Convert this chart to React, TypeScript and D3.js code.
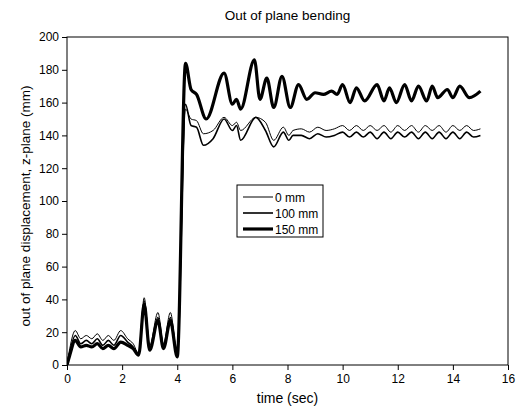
import React, { useEffect, useRef } from "react";
import * as d3 from "d3";

const title = "Out of plane bending";
const xLabel = "time (sec)";
const yLabel = "out of plane displacement, z-plane (mm)";
const seriesNames = ["0 mm", "100 mm", "150 mm"];
const seriesWidths = [1, 1.6, 3.2];
const xTicks = [0, 2, 4, 6, 8, 10, 12, 14, 16];
const yTicks = [0, 20, 40, 60, 80, 100, 120, 140, 160, 180, 200];

const series0: [number, number][] = [
  [0, 0], [0.1, 10], [0.3, 21], [0.5, 16], [0.7, 18], [0.9, 16], [1.1, 19], [1.3, 15], [1.5, 18], [1.7, 15],
  [1.95, 21], [2.2, 16], [2.4, 13], [2.6, 7], [2.8, 41], [3.0, 12], [3.3, 32], [3.5, 13], [3.75, 32], [4.0, 7],
  [4.3, 156], [4.5, 150], [4.7, 149], [4.95, 141], [5.3, 143], [5.7, 151], [6.0, 146], [6.15, 148], [6.3, 143], [6.85, 151],
  [7.2, 148], [7.5, 137], [7.85, 145], [8.05, 140], [8.2, 143], [8.5, 144], [8.8, 142], [9.1, 145], [9.4, 143],
  [9.7, 144], [10.0, 146], [10.25, 143], [10.5, 146], [10.75, 143], [11.0, 146], [11.25, 143], [11.5, 146],
  [11.75, 142], [12.0, 146], [12.25, 143], [12.5, 146], [12.75, 142], [13.0, 146], [13.25, 143], [13.5, 146],
  [13.75, 142], [14.0, 146], [14.25, 143], [14.5, 146], [14.75, 143], [15.0, 144],
];

const series100: [number, number][] = [
  [0, 0], [0.1, 8], [0.3, 18], [0.5, 13], [0.7, 15], [0.9, 13], [1.1, 16], [1.3, 12], [1.5, 15], [1.7, 12],
  [1.95, 18], [2.2, 14], [2.4, 11], [2.6, 6], [2.8, 39], [3.0, 10], [3.3, 29], [3.5, 11], [3.75, 29], [4.0, 6],
  [4.3, 159], [4.5, 146], [4.7, 145], [4.95, 134], [5.3, 138], [5.7, 150], [6.0, 143], [6.15, 146], [6.3, 137], [6.85, 151],
  [7.2, 143], [7.5, 133], [7.85, 142], [8.05, 137], [8.2, 140], [8.5, 140], [8.8, 138], [9.1, 141], [9.4, 139],
  [9.7, 140], [10.0, 142], [10.25, 139], [10.5, 142], [10.75, 139], [11.0, 142], [11.25, 138], [11.5, 142],
  [11.75, 138], [12.0, 142], [12.25, 139], [12.5, 142], [12.75, 138], [13.0, 142], [13.25, 138], [13.5, 142],
  [13.75, 138], [14.0, 142], [14.25, 138], [14.5, 142], [14.75, 139], [15.0, 140],
];

const series150: [number, number][] = [
  [0, 0], [0.1, 6], [0.3, 15], [0.5, 11], [0.7, 12], [0.9, 11], [1.1, 13], [1.3, 10], [1.5, 12], [1.7, 10],
  [1.95, 14], [2.2, 12], [2.4, 10], [2.6, 6], [2.8, 37], [3.0, 9], [3.3, 27], [3.5, 10], [3.75, 27], [4.0, 5],
  [4.3, 184], [4.5, 168], [4.7, 165], [5.05, 150], [5.7, 178], [6.0, 159], [6.15, 162], [6.3, 156], [6.8, 186],
  [7.0, 162], [7.25, 175], [7.5, 157], [7.8, 176], [8.1, 157], [8.4, 171], [8.7, 162], [9.0, 166], [9.3, 165],
  [9.6, 167], [9.8, 165], [10.0, 171], [10.27, 160], [10.5, 169], [10.8, 161], [11.25, 171], [11.5, 161],
  [11.7, 169], [11.95, 160], [12.25, 171], [12.5, 161], [12.75, 170], [13.05, 161], [13.25, 170], [13.45, 163],
  [13.8, 168], [14.0, 163], [14.25, 170], [14.6, 163], [15.0, 167],
];

const allSeries = [series0, series100, series150];

const W = 517;
const H = 419;
const M = { left: 67, right: 9, top: 37, bottom: 54 };
const FONT = "'Liberation Sans', Arial, Helvetica, sans-serif";

export default function App() {
  const ref = useRef<SVGSVGElement | null>(null);

  useEffect(() => {
    document.body.style.margin = "0";
    const svg = d3.select(ref.current);
    svg.selectAll("*").remove();

    const x = d3.scaleLinear().domain([0, 16]).range([M.left, W - M.right]);
    const y = d3.scaleLinear().domain([0, 200]).range([H - M.bottom, M.top]);

    svg.append("rect").attr("width", W).attr("height", H).attr("fill", "#fff");

    svg.append("clipPath").attr("id", "plotclip")
      .append("rect")
      .attr("x", M.left).attr("y", M.top)
      .attr("width", W - M.left - M.right).attr("height", H - M.top - M.bottom);

    const line = d3.line<[number, number]>()
      .x((d) => x(d[0]))
      .y((d) => y(d[1]))
      .curve(d3.curveMonotoneX);

    const g = svg.append("g").attr("clip-path", "url(#plotclip)");
    [2, 1, 0].forEach((i) => {
      g.append("path")
        .attr("d", line(allSeries[i]) as string)
        .attr("fill", "none")
        .attr("stroke", "#000")
        .attr("stroke-width", seriesWidths[i])
        .attr("stroke-linejoin", "round");
    });

    svg.append("rect")
      .attr("x", M.left).attr("y", M.top)
      .attr("width", W - M.left - M.right).attr("height", H - M.top - M.bottom)
      .attr("fill", "none").attr("stroke", "#000").attr("stroke-width", 1);

    const xAxis = svg.append("g").attr("transform", `translate(0,${H - M.bottom})`);
    xAxis.call(
      d3.axisBottom(x).tickValues(d3.range(0, 17, 1)).tickSize(3).tickFormat(() => "")
    );
    xAxis.call(
      d3.axisBottom(x).tickValues(xTicks).tickSize(5).tickPadding(4).tickFormat(d3.format("d"))
    );
    xAxis.selectAll(".domain").remove();
    xAxis.selectAll("text").attr("font-family", FONT).attr("font-size", 12).attr("fill", "#000");

    const yAxis = svg.append("g").attr("transform", `translate(${M.left},0)`);
    yAxis.call(
      d3.axisLeft(y).tickValues(d3.range(0, 201, 10)).tickSize(3).tickFormat(() => "")
    );
    yAxis.call(
      d3.axisLeft(y).tickValues(yTicks).tickSize(5).tickPadding(3).tickFormat(d3.format("d"))
    );
    yAxis.selectAll(".domain").remove();
    yAxis.selectAll("text").attr("font-family", FONT).attr("font-size", 12).attr("fill", "#000");

    svg.append("text")
      .attr("x", (M.left + W - M.right) / 2)
      .attr("y", 20)
      .attr("text-anchor", "middle")
      .attr("font-family", FONT)
      .attr("font-size", 13.5)
      .text(title);

    svg.append("text")
      .attr("x", (M.left + W - M.right) / 2)
      .attr("y", 403)
      .attr("text-anchor", "middle")
      .attr("font-family", FONT)
      .attr("font-size", 14)
      .text(xLabel);

    svg.append("text")
      .attr("transform", `translate(30,${(M.top + H - M.bottom) / 2 + 5}) rotate(-90)`)
      .attr("text-anchor", "middle")
      .attr("font-family", FONT)
      .attr("font-size", 13.5)
      .text(yLabel);

    const lg = svg.append("g");
    lg.append("rect")
      .attr("x", 237).attr("y", 185).attr("width", 86).attr("height", 52)
      .attr("fill", "#fff").attr("stroke", "#000").attr("stroke-width", 1);
    seriesNames.forEach((name, i) => {
      const yy = 197 + i * 16;
      lg.append("line")
        .attr("x1", 243).attr("x2", 273).attr("y1", yy).attr("y2", yy)
        .attr("stroke", "#000").attr("stroke-width", seriesWidths[i]);
      lg.append("text")
        .attr("x", 275).attr("y", yy + 4.5)
        .attr("font-family", FONT).attr("font-size", 12)
        .text(name);
    });
  }, []);

  return <svg ref={ref} width={W} height={H} style={{ display: "block" }} />;
}
